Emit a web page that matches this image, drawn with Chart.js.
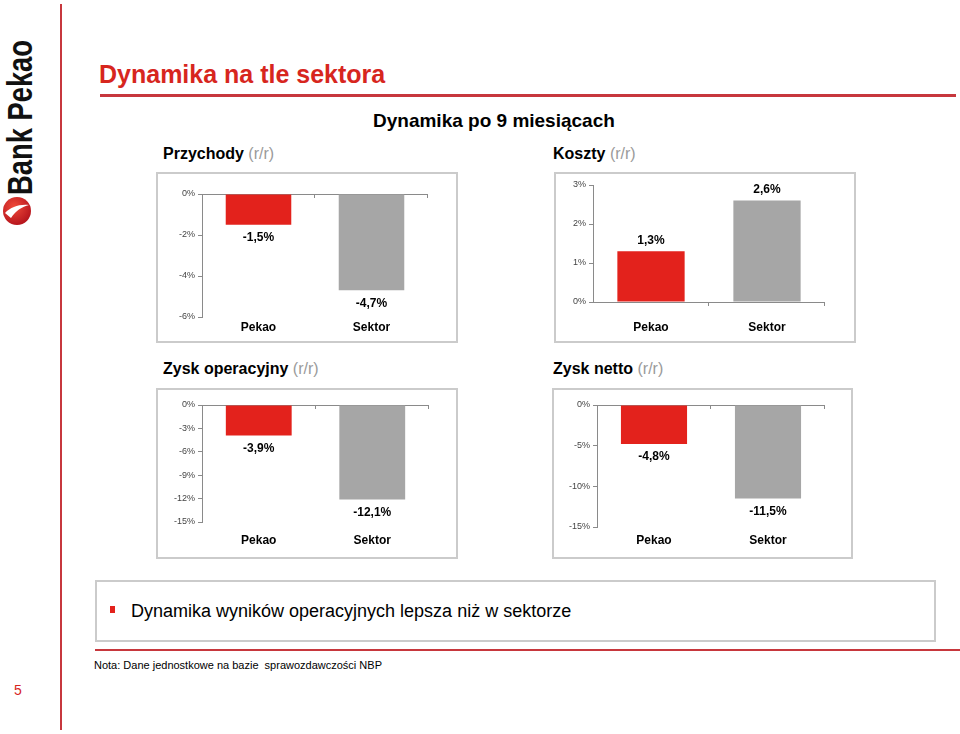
<!DOCTYPE html>
<html>
<head>
<meta charset="utf-8">
<script src="https://cdn.jsdelivr.net/npm/chart.js@4.4.1/dist/chart.umd.min.js"></script>
<style>
  body { margin: 0; background: #fff; font-family: "Liberation Sans", Arial, sans-serif; }
  #slide { position: relative; width: 960px; height: 734px; overflow: hidden; background: #fff; }
  .abs { position: absolute; }
  .panel { position: absolute; box-sizing: border-box; border: 2px solid #cbcbcb; }
  .sub { position: absolute; font-size: 16px; font-weight: bold; color: #000; white-space: nowrap; }
  .sub span { font-weight: normal; color: #9a9a9a; }
  canvas { position: absolute; }
</style>
</head>
<body>
<div id="slide">
  <!-- frame lines -->
  <div class="abs" style="left:60px;top:4px;width:2px;height:726px;background:#c7373d"></div>
  <div class="abs" style="left:100px;top:94px;width:856px;height:3px;background:#c7373d"></div>
  <div class="abs" style="left:95px;top:649px;width:865px;height:2px;background:#c7373d"></div>

  <!-- logo -->
  <div id="logo" class="abs" style="left:2px;top:195px;transform-origin:0 0;font-family:'Liberation Sans Narrow','Liberation Sans',Arial;font-weight:bold;font-size:35px;line-height:35px;white-space:nowrap;color:#111">Bank Pekao</div>
  <svg class="abs" style="left:2px;top:196px" width="30" height="30" viewBox="0 0 30 30">
    <defs>
      <radialGradient id="rg" cx="40%" cy="35%" r="70%">
        <stop offset="0%" stop-color="#f04a3a"/>
        <stop offset="100%" stop-color="#b3121b"/>
      </radialGradient>
    </defs>
    <circle cx="15" cy="15" r="14" fill="url(#rg)"/>
    <path d="M3 17 C9 11 17 8 27 9 C20 11 14 14 9 22 Z" fill="#fff"/>
  </svg>

  <div class="abs" style="left:99px;top:60px;font-size:25px;font-weight:bold;color:#d7261e;white-space:nowrap">Dynamika na tle sektora</div>
  <div class="abs" style="left:373px;top:110px;font-size:19px;font-weight:bold;color:#000;white-space:nowrap">Dynamika po 9 miesiącach</div>

  <div class="sub" style="left:163px;top:145px">Przychody <span>(r/r)</span></div>
  <div class="sub" style="left:553px;top:145px">Koszty <span>(r/r)</span></div>
  <div class="sub" style="left:163px;top:360px">Zysk operacyjny <span>(r/r)</span></div>
  <div class="sub" style="left:553px;top:360px">Zysk netto <span>(r/r)</span></div>

  <div class="panel" style="left:156px;top:172px;width:302px;height:171px"></div>
  <div class="panel" style="left:554px;top:172px;width:302px;height:171px"></div>
  <div class="panel" style="left:156px;top:388px;width:302px;height:171px"></div>
  <div class="panel" style="left:552px;top:388px;width:301px;height:171px"></div>

  <canvas id="c1" width="302" height="171" style="left:156px;top:172px"></canvas>
  <canvas id="c2" width="302" height="171" style="left:554px;top:172px"></canvas>
  <canvas id="c3" width="302" height="171" style="left:156px;top:388px"></canvas>
  <canvas id="c4" width="301" height="171" style="left:552px;top:388px"></canvas>

  <div class="panel" style="left:95px;top:580px;width:841px;height:62px"></div>
  <div class="abs" style="left:110px;top:606px;width:5px;height:7px;background:#e3221c"></div>
  <div class="abs" style="left:131px;top:601px;font-size:18px;color:#000;white-space:nowrap">Dynamika wyników operacyjnych lepsza niż w sektorze</div>
  <div class="abs" style="left:94px;top:659px;font-size:11px;color:#000;white-space:nowrap">Nota: Dane jednostkowe na bazie&nbsp; sprawozdawczości NBP</div>
  <div class="abs" style="left:14px;top:682px;font-size:14px;color:#d7261e">5</div>
</div>

<script>
// data
const categories = ["Pekao", "Sektor"];
const przychody = [-1.5, -4.7];
const koszty = [1.3, 2.6];
const zyskOperacyjny = [-3.9, -12.1];
const zyskNetto = [-4.8, -11.5];

// y axis ranges [min, max, step]
const przychodyAxis = [-6, 0, 2];
const kosztyAxis = [0, 3, 1];
const zyskOperacyjnyAxis = [-15, 0, 3];
const zyskNettoAxis = [-15, 0, 5];

const barColors = ["#e3221c", "#a6a6a6"];

// logo text fitted to its slot
const logo = document.getElementById("logo");
const lw = logo.getBoundingClientRect().width;
logo.style.transform = "rotate(-90deg) scale(" + (155 / lw) + ",1)";

function fmt(v) {
  return v.toFixed(1).replace(".", ",") + "%";
}

const valueLabels = {
  id: "valueLabels",
  afterDatasetsDraw(chart) {
    const ctx = chart.ctx;
    const meta = chart.getDatasetMeta(0);
    const data = chart.data.datasets[0].data;
    ctx.save();
    ctx.font = "bold 12px 'Liberation Sans', Arial";
    ctx.fillStyle = "#000";
    ctx.textAlign = "center";
    ctx.textBaseline = "middle";
    meta.data.forEach((bar, i) => {
      const v = data[i];
      ctx.fillText(fmt(v), bar.x, bar.y + (v < 0 ? 13 : -11));
    });
    // small tick marks on the zero line at category boundaries
    const x = chart.scales.x, y = chart.scales.y;
    const y0 = y.getPixelForValue(0);
    ctx.strokeStyle = "#8a8a8a";
    ctx.lineWidth = 1;
    ctx.beginPath();
    for (let i = 1; i <= categories.length; i++) {
      const px = Math.round(x.left + (x.right - x.left) * i / categories.length) - 0.5;
      ctx.moveTo(px, y0);
      ctx.lineTo(px, y0 + 4);
    }
    ctx.stroke();
    ctx.restore();
  }
};

function makeChart(id, values, axis, g) {
  new Chart(document.getElementById(id), {
    type: "bar",
    data: {
      labels: categories,
      datasets: [{
        data: values,
        backgroundColor: barColors,
        categoryPercentage: 1,
        barPercentage: 0.58
      }]
    },
    options: {
      responsive: false,
      animation: false,
      devicePixelRatio: 1,
      layout: { padding: { left: 0, top: g.top, right: g.right, bottom: 0 } },
      plugins: { legend: { display: false }, tooltip: { enabled: false } },
      scales: {
        x: {
          position: "bottom",
          grid: { display: false, drawTicks: false },
          border: { display: false },
          ticks: {
            padding: g.xpad,
            color: "#000",
            font: { family: "'Liberation Sans', Arial", size: 12, weight: "bold" }
          },
          afterFit: s => { s.height = g.xh; }
        },
        y: {
          min: axis[0],
          max: axis[1],
          grid: {
            color: c => (c.tick && c.tick.value === 0 ? "#8a8a8a" : "rgba(0,0,0,0)"),
            tickColor: "#8a8a8a",
            tickLength: 4,
            drawTicks: true
          },
          border: { display: true, color: "#8a8a8a", width: 1 },
          ticks: {
            stepSize: axis[2],
            padding: 3,
            color: "#444",
            font: { family: "'Liberation Sans', Arial", size: 9 },
            callback: v => v + "%"
          },
          afterFit: s => { s.width = g.yw; }
        }
      }
    },
    plugins: [valueLabels]
  });
}

makeChart("c1", przychody, przychodyAxis, { top: 22, right: 30, yw: 46, xh: 26, xpad: 3 });
makeChart("c2", koszty, kosztyAxis, { top: 13, right: 31, yw: 39, xh: 41, xpad: 18 });
makeChart("c3", zyskOperacyjny, zyskOperacyjnyAxis, { top: 17, right: 29, yw: 46, xh: 37, xpad: 11 });
makeChart("c4", zyskNetto, zyskNettoAxis, { top: 17, right: 28, yw: 45, xh: 32, xpad: 6 });
</script>
</body>
</html>
